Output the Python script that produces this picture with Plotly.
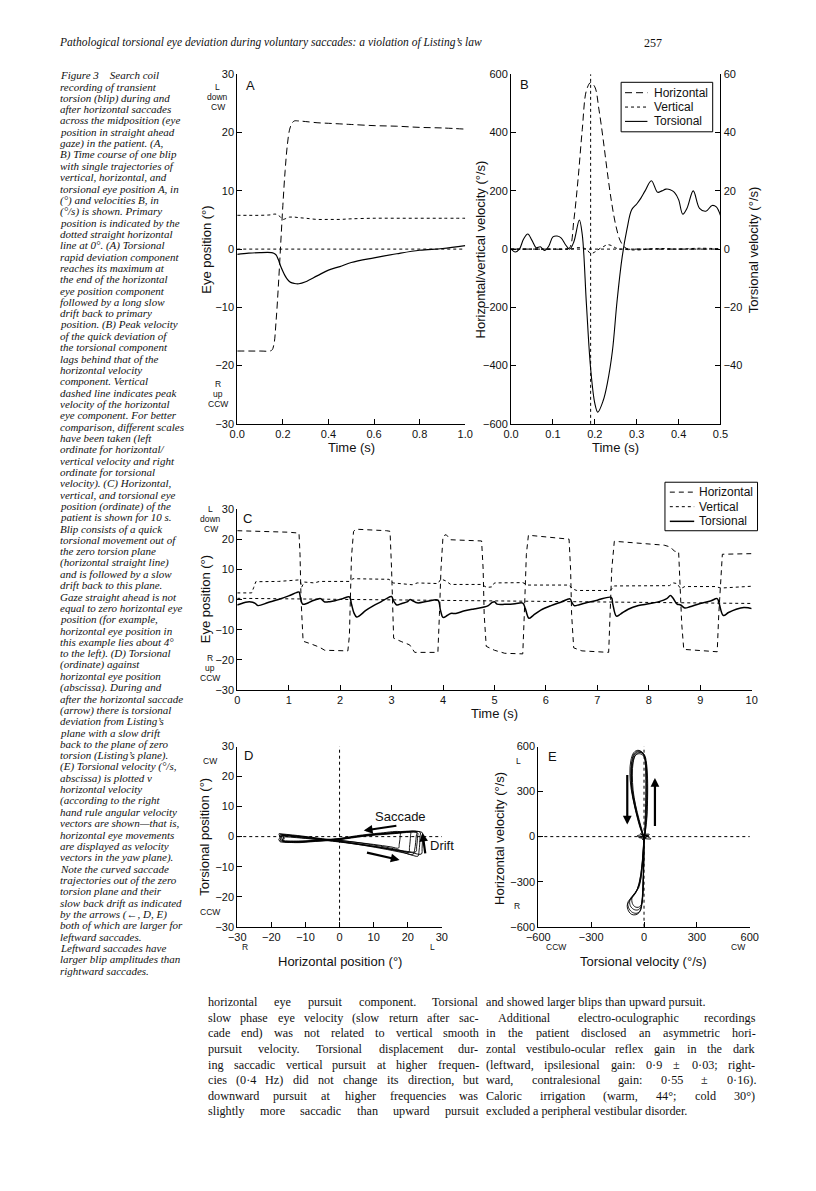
import plotly.graph_objects as go

W, H = 816, 1191
def px(x): return x / W
def py(y): return 1 - y / H

SANS = "Liberation Sans, Arial, sans-serif"
SERIF = "Liberation Serif, Times New Roman, serif"
INK = "#111111"

# ---------------- Panel A : eye position, one blip ----------------
a_t   = [0, 0.05, 0.10, 0.15, 0.16, 0.17, 0.18, 0.19, 0.20, 0.21, 0.22, 0.23, 0.24, 0.25, 0.27, 0.30, 0.35, 0.40, 0.45, 0.50, 0.60, 0.70, 0.80, 0.90, 1.00]
a_hor = [-17.5, -17.5, -17.5, -17.4, -16.5, -12.5, -6.5, 0.5, 7.5, 13.5, 18.0, 20.6, 21.6, 22.0, 22.0, 21.9, 21.7, 21.6, 21.5, 21.4, 21.2, 21.1, 20.9, 20.8, 20.6]
a_ver = [5.8, 5.8, 5.8, 5.9, 6.0, 6.0, 5.8, 5.5, 5.1, 5.2, 5.4, 5.5, 5.5, 5.5, 5.4, 5.3, 5.1, 5.1, 5.1, 5.2, 5.3, 5.3, 5.3, 5.3, 5.3]
a_tor = [-0.9, -0.7, -0.6, -0.6, -0.7, -1.0, -1.8, -2.9, -3.8, -4.6, -5.2, -5.6, -5.8, -5.9, -5.95, -5.6, -4.6, -3.6, -3.0, -2.3, -1.5, -0.8, -0.2, 0.1, 0.6]

# ---------------- Panel B : velocities ----------------
b_t   = [0, 0.05, 0.10, 0.13, 0.14, 0.15, 0.16, 0.17, 0.18, 0.19, 0.20, 0.21, 0.22, 0.23, 0.24, 0.25, 0.26, 0.27, 0.28, 0.30, 0.35, 0.40, 0.45, 0.50]
b_hor = [0, 0, 0, 0, 5, 100, 240, 410, 545, 572, 557, 478, 376, 263, 161, 82, 31, 8, 0, 0, 0, 0, 0, 0]
b_ver = [0, 0, 0, 0, 0, 2, 5, 4, 0, -15, -10, 0, 8, 15, 12, 4, 0, 0, -2, -3, 2, 0, 3, 1]
b_tor_t = [0, 0.01, 0.02, 0.03, 0.04, 0.05, 0.06, 0.07, 0.08, 0.09, 0.10, 0.11, 0.12, 0.13, 0.14, 0.15, 0.163, 0.17, 0.18, 0.19, 0.20, 0.207, 0.22, 0.23, 0.242, 0.253, 0.265, 0.277, 0.288, 0.30, 0.31, 0.32, 0.335, 0.35, 0.36, 0.37, 0.38, 0.39, 0.40, 0.41, 0.42, 0.435, 0.45, 0.465, 0.48, 0.49, 0.50]
b_tor   = [0, -1.0, 0, 3.5, 5.2, 3.0, 0.5, 0.8, -0.5, 1.0, 4.2, 4.5, 3.8, 1.5, 0, 2.5, 10.0, 5.0, -19.0, -41.0, -53.0, -56.0, -52.0, -46.0, -35.0, -18.0, -3.0, 7.0, 13.5, 15.5, 17.5, 20.0, 23.5, 19.5, 20.0, 20.6, 20.4, 19.5, 17.0, 12.0, 14.0, 20.0, 14.0, 13.0, 15.0, 14.5, 11.5]

# ---------------- Panel C : 10 s recording ----------------
c_hor_t = [0, 0.5, 1.0, 1.2, 1.22, 1.24, 1.26, 1.28, 1.45, 1.6, 1.7, 2.15, 2.18, 2.2, 2.22, 2.26, 2.3, 2.9, 2.97, 3.0, 3.02, 3.04, 3.2, 3.35, 3.45, 3.9, 3.93, 3.96, 4.0, 4.06, 4.15, 4.75, 4.78, 4.8, 4.84, 5.0, 5.2, 5.55, 5.58, 5.62, 5.66, 6.0, 6.45, 6.48, 6.5, 6.54, 6.7, 7.22, 7.25, 7.28, 7.33, 7.8, 8.3, 8.42, 8.5, 8.58, 8.61, 8.64, 8.68, 9.0, 9.33, 9.36, 9.39, 9.43, 10.0]
c_hor   = [22.8, 22.6, 22.3, 22.0, 15, 0, -10, -13.8, -14.8, -15.8, -16.8, -17.0, -12, 0, 14, 22.5, 23.3, 22.8, 22.6, 10, -5, -12.8, -14.0, -15.0, -17.5, -17.5, -5, 10, 21.0, 21.5, 19.8, 19.4, 10, -5, -15.5, -16.8, -17.8, -18.0, -5, 15, 21.3, 20.8, 20.0, 10, -5, -16.0, -17.0, -17.5, -5, 10, 19.3, 18.7, 18.0, 17.4, 16.0, 15.8, 5, -8, -16.5, -17.0, -17.3, -5, 5, 15.0, 15.2]
c_ver_t = [0, 0.28, 0.32, 0.36, 0.8, 1.2, 1.23, 1.25, 1.3, 1.5, 1.6, 2.18, 2.25, 2.95, 3.03, 3.4, 3.5, 3.9, 3.96, 4.05, 4.15, 4.75, 4.85, 4.95, 5.0, 5.55, 5.65, 6.45, 6.52, 6.6, 7.25, 7.33, 8.4, 8.48, 8.55, 8.62, 8.7, 9.3, 9.4, 9.6, 10.0]
c_ver   = [2.2, 2.2, 4.0, 5.9, 6.0, 6.5, 5.8, 4.0, 5.8, 5.5, 6.0, 6.0, 6.9, 6.7, 5.5, 4.9, 5.5, 5.3, 6.8, 6.2, 5.0, 5.0, 4.0, 4.2, 5.5, 5.6, 4.8, 4.8, 3.5, 3.0, 3.0, 4.5, 4.6, 5.5, 5.3, 3.6, 4.3, 4.3, 3.8, 4.0, 4.4]
c_tor_t = [0, 0.1, 0.2, 0.3, 0.35, 0.4, 0.6, 0.8, 1.0, 1.15, 1.2, 1.23, 1.27, 1.35, 1.45, 1.55, 1.62, 1.7, 1.8, 1.9, 2.05, 2.18, 2.22, 2.27, 2.32, 2.38, 2.5, 2.65, 2.8, 2.9, 3.0, 3.04, 3.1, 3.2, 3.3, 3.36, 3.42, 3.5, 3.7, 3.9, 3.95, 4.0, 4.08, 4.15, 4.25, 4.4, 4.6, 4.8, 4.88, 4.95, 5.0, 5.05, 5.2, 5.4, 5.55, 5.6, 5.67, 5.75, 5.9, 6.1, 6.3, 6.47, 6.5, 6.55, 6.65, 6.8, 7.0, 7.27, 7.3, 7.37, 7.45, 7.6, 7.8, 8.0, 8.2, 8.35, 8.42, 8.47, 8.55, 8.62, 8.7, 8.8, 9.0, 9.2, 9.33, 9.37, 9.45, 9.55, 9.7, 9.85, 9.95, 10.0]
c_tor   = [-1.8, -1.2, -0.8, -0.9, -1.3, -2.0, -1.0, 0.0, 1.2, 2.3, 2.5, 0.5, -1.5, -1.3, -0.5, 0.1, 0.3, -0.8, -0.7, -0.4, 0.3, 0.9, -1.5, -4.5, -5.8, -5.3, -3.6, -2.0, -0.7, 0.3, 1.0, -0.5, -1.8, -1.3, -0.8, 0.0, -0.5, -1.1, -0.6, -0.2, -3.5, -5.9, -5.3, -4.6, -4.6, -3.8, -3.1, -2.5, -2.0, -1.0, -0.7, -1.5, -1.6, -1.4, -1.2, -3.0, -6.2, -5.3, -3.5, -2.0, -0.8, 0.2, -0.8, -2.0, -1.7, -1.0, -0.2, 0.7, -1.5, -5.5, -4.8, -3.2, -2.0, -1.4, -0.7, 0.3, 1.3, 0.5, -1.5, -1.8, -2.8, -2.4, -1.3, -0.5, 0.3, -1.5, -5.3, -4.3, -3.2, -2.6, -2.8, -3.0]
c_plane_t = [0, 10]
c_plane   = [0.4, -1.3]

# ---------------- Panel D : torsional vs horizontal position ----------------
d_h = [
    [-17.5, -12, -5, 0, 6, 12, 18, 21.5, 22.0, 22.3, 22.5, 22.6, 16, 8, 0, -8, -14, -17.5, -17.2, -17.6],
    [-17.0, -11, -4, 0, 7, 14, 20, 23.0, 23.3, 23.5, 23.6, 23.6, 15, 6, 0, -7, -13, -16.8, -16.5, -17.0],
    [-17.8, -11, -5, 0, 6, 12, 17, 20.3, 20.5, 20.7, 20.8, 20.8, 14, 7, 0, -7, -13, -17.8, -17.5, -17.8],
    [-16.5, -10, -4, 0, 8, 15, 21, 24.0, 24.2, 24.3, 24.3, 24.2, 16, 7, 0, -8, -13, -16.5, -16.2, -16.6],
    [-17.2, -11, -5, 0, 5, 10, 15, 17.3, 17.5, 17.7, 17.8, 17.8, 12, 5, 0, -7, -12, -17.2, -17.0, -17.3],
    [-16.8, -10, -4, 0, 7, 13, 19, 22.4, 22.6, 22.8, 22.9, 22.9, 15, 7, 0, -7, -12, -16.8, -16.4, -16.9],
]
d_t = [
    [0.8, 0.1, -0.9, -1.5, -2.5, -3.6, -5.0, -6.0, -4.5, -2.0, 0.2, 1.6, 1.3, 0.5, -0.8, -1.4, -1.8, -1.6, -0.5, 0.6],
    [0.3, -0.4, -1.2, -1.7, -2.9, -4.3, -5.7, -6.5, -4.8, -2.5, 0.0, 1.5, 1.1, 0.2, -0.9, -1.6, -2.0, -1.4, -0.3, 0.3],
    [1.0, 0.2, -0.7, -1.2, -2.1, -3.2, -4.3, -5.2, -3.6, -1.5, 0.3, 1.5, 1.2, 0.4, -0.7, -1.3, -1.6, -1.2, -0.2, 0.8],
    [0.0, -0.6, -1.3, -1.8, -3.0, -4.2, -5.3, -5.8, -3.9, -1.8, 0.1, 1.4, 1.1, 0.3, -0.9, -1.5, -1.9, -1.5, -0.4, 0.0],
    [0.5, -0.2, -0.9, -1.3, -1.9, -2.6, -3.4, -3.8, -2.6, -1.0, 0.4, 1.5, 1.2, 0.3, -0.6, -1.2, -1.5, -1.0, -0.2, 0.5],
    [0.6, -0.1, -1.0, -1.6, -2.7, -3.8, -4.8, -5.0, -3.4, -1.4, 0.2, 1.2, 0.9, 0.1, -1.0, -1.5, -1.7, -1.3, -0.3, 0.5],
]

# ---------------- Panel E : horizontal vs torsional velocity ----------------
e_tv = [
    [0, 10, 15, 15, 10, -5, -30, -55, -70, -75, -70, -55, -35, -15, 0],
    [0, 12, 18, 17, 12, 0, -25, -50, -65, -72, -68, -52, -30, -12, 0],
    [0, 6, 10, 10, 5, -8, -35, -58, -75, -80, -74, -58, -38, -18, 0],
    [0, 14, 20, 20, 14, 2, -22, -46, -62, -66, -62, -48, -28, -10, 0],
    [0, 8, 12, 12, 8, -6, -32, -52, -68, -72, -66, -50, -32, -14, 0],
    [0, -5, -12, -25, -45, -75, -92, -85, -65, -40, -20, -10, -5, -2, 0],
    [0, -4, -10, -20, -38, -62, -80, -78, -58, -35, -18, -8, -4, -1, 0],
    [0, -6, -14, -28, -50, -80, -95, -88, -70, -46, -24, -12, -6, -2, 0],
    [0, -3, -8, -18, -30, -50, -68, -66, -50, -30, -14, -6, -3, -1, 0],
    [0, 20, -30, 40, -20, 10, -40, 30, -10, 25, 0],
]
e_hv = [
    [0, 100, 250, 400, 500, 555, 570, 555, 500, 420, 320, 220, 120, 40, 0],
    [0, 90, 230, 380, 480, 535, 552, 540, 485, 400, 300, 200, 110, 35, 0],
    [0, 110, 260, 410, 510, 560, 575, 560, 505, 425, 325, 225, 125, 45, 0],
    [0, 95, 240, 390, 490, 545, 560, 548, 492, 410, 310, 210, 115, 38, 0],
    [0, 105, 255, 405, 505, 552, 565, 550, 496, 415, 315, 215, 118, 42, 0],
    [0, -100, -200, -300, -370, -410, -440, -480, -505, -510, -490, -420, -300, -150, 0],
    [0, -90, -190, -290, -350, -390, -420, -460, -485, -488, -470, -400, -290, -140, 0],
    [0, -110, -210, -310, -380, -425, -455, -495, -518, -520, -500, -430, -310, -160, 0],
    [0, -80, -180, -280, -340, -375, -405, -445, -468, -470, -450, -390, -280, -130, 0],
    [0, 10, -5, -15, 20, -10, 5, 15, -20, 8, 0],
]

# ---------------- Text ----------------
header_text = "Pathological torsional eye deviation during voluntary saccades: a violation of Listing’s law"
page_number = "257"
legend_names = ["Horizontal", "Vertical", "Torsional"]
caption_lines = [
    "Figure 3    Search coil", "recording of transient", "torsion (blip) during and",
    "after horizontal saccades", "across the midposition (eye", "position in straight ahead",
    "gaze) in the patient. (A,", "B) Time course of one blip", "with single trajectories of",
    "vertical, horizontal, and", "torsional eye position A, in", "(°) and velocities B, in",
    "(°/s) is shown. Primary", "position is indicated by the", "dotted straight horizontal",
    "line at 0°. (A) Torsional", "rapid deviation component", "reaches its maximum at",
    "the end of the horizontal", "eye position component", "followed by a long slow",
    "drift back to primary", "position. (B) Peak velocity", "of the quick deviation of",
    "the torsional component", "lags behind that of the", "horizontal velocity",
    "component. Vertical", "dashed line indicates peak", "velocity of the horizontal",
    "eye component. For better", "comparison, different scales", "have been taken (left",
    "ordinate for horizontal/", "vertical velocity and right", "ordinate for torsional",
    "velocity). (C) Horizontal,", "vertical, and torsional eye", "position (ordinate) of the",
    "patient is shown for 10 s.", "Blip consists of a quick", "torsional movement out of",
    "the zero torsion plane", "(horizontal straight line)", "and is followed by a slow",
    "drift back to this plane.", "Gaze straight ahead is not", "equal to zero horizontal eye",
    "position (for example,", "horizontal eye position in", "this example lies about 4°",
    "to the left). (D) Torsional", "(ordinate) against", "horizontal eye position",
    "(abscissa). During and", "after the horizontal saccade", "(arrow) there is torsional",
    "deviation from Listing’s", "plane with a slow drift", "back to the plane of zero",
    "torsion (Listing’s plane).", "(E) Torsional velocity (°/s,", "abscissa) is plotted v",
    "horizontal velocity", "(according to the right", "hand rule angular velocity",
    "vectors are shown—that is,", "horizontal eye movements", "are displayed as velocity",
    "vectors in the yaw plane).", "Note the curved saccade", "trajectories out of the zero",
    "torsion plane and their", "slow back drift as indicated", "by the arrows (←, D, E)",
    "both of which are larger for", "leftward saccades.", "Leftward saccades have",
    "larger blip amplitudes than", "rightward saccades.",
]
body_left = [
    "horizontal eye pursuit component. Torsional",
    "slow phase eye velocity (slow return after sac-",
    "cade end) was not related to vertical smooth",
    "pursuit velocity. Torsional displacement dur-",
    "ing saccadic vertical pursuit at higher frequen-",
    "cies (0·4 Hz) did not change its direction, but",
    "downward pursuit at higher frequencies was",
    "slightly more saccadic than upward pursuit",
]
body_left_justify = [True] * 8
body_right = [
    "and showed larger blips than upward pursuit.",
    "Additional electro-oculographic recordings",
    "in the patient disclosed an asymmetric hori-",
    "zontal vestibulo-ocular reflex gain in the dark",
    "(leftward, ipsilesional gain: 0·9 ± 0·03; right-",
    "ward, contralesional gain: 0·55 ± 0·16).",
    "Caloric irrigation (warm, 44°; cold 30°)",
    "excluded a peripheral vestibular disorder.",
]
body_right_justify = [False, True, True, True, True, True, True, False]
body_right_indent = [0, 13, 0, 0, 0, 0, 0, 0]

fig = go.Figure()

def line(dash, width=1.0):
    return dict(color="black", width=width, dash=dash)

H_DASH = "7px,4px"
V_DASH = "3px,3px"

# Panel A
fig.add_trace(go.Scatter(x=a_t, y=a_hor, mode="lines", line=line(H_DASH), line_shape="spline", showlegend=False, xaxis="x", yaxis="y"))
fig.add_trace(go.Scatter(x=a_t, y=a_ver, mode="lines", line=line(V_DASH), line_shape="spline", showlegend=False, xaxis="x", yaxis="y"))
fig.add_trace(go.Scatter(x=a_t, y=a_tor, mode="lines", line=line("solid", 1.2), line_shape="spline", showlegend=False, xaxis="x", yaxis="y"))

# Panel B
B_STYLES = [line(H_DASH), line("dot"), line("solid", 1.1)]
fig.add_trace(go.Scatter(x=b_t, y=b_hor, mode="lines", line=B_STYLES[0], line_shape="spline", name=legend_names[0], showlegend=False, xaxis="x2", yaxis="y2"))
fig.add_trace(go.Scatter(x=b_t, y=b_ver, mode="lines", line=B_STYLES[1], line_shape="spline", name=legend_names[1], showlegend=False, xaxis="x2", yaxis="y2"))
fig.add_trace(go.Scatter(x=b_tor_t, y=b_tor, mode="lines", line=B_STYLES[2], line_shape="spline", name=legend_names[2], showlegend=False, xaxis="x2", yaxis="y3"))
pk = b_t[b_hor.index(max(b_hor))]
fig.add_shape(type="line", xref="x2", yref="y2 domain", x0=pk, x1=pk, y0=0, y1=1, line=line("dot"))

# Panel C
C_STYLES = [line("5px,4px"), line("3px,3px"), line("solid", 1.5)]
fig.add_trace(go.Scatter(x=c_hor_t, y=c_hor, mode="lines", line=C_STYLES[0], name=legend_names[0], showlegend=False, xaxis="x3", yaxis="y4"))
fig.add_trace(go.Scatter(x=c_ver_t, y=c_ver, mode="lines", line=C_STYLES[1], name=legend_names[1], showlegend=False, xaxis="x3", yaxis="y4"))
fig.add_trace(go.Scatter(x=c_tor_t, y=c_tor, mode="lines", line=C_STYLES[2], line_shape="spline", name=legend_names[2], showlegend=False, xaxis="x3", yaxis="y4"))
fig.add_trace(go.Scatter(x=c_plane_t, y=c_plane, mode="lines", line=line("3px,3px"), showlegend=False, xaxis="x3", yaxis="y4"))

# Panel D
for hh, tt in zip(d_h, d_t):
    fig.add_trace(go.Scatter(x=hh, y=tt, mode="lines", line=line("solid", 0.9), line_shape="spline", showlegend=False, xaxis="x4", yaxis="y5"))

# Panel E
for tv, hv in zip(e_tv, e_hv):
    fig.add_trace(go.Scatter(x=tv, y=hv, mode="lines", line=line("solid", 0.9), line_shape="spline", showlegend=False, xaxis="x5", yaxis="y6"))

# zero reference lines
for xr, yr in [("x", "y"), ("x2", "y2")]:
    fig.add_shape(type="line", xref=xr + " domain", yref=yr, x0=0, x1=1, y0=0, y1=0, line=line("dot"))
fig.add_shape(type="line", xref="x4 domain", yref="y5", x0=0, x1=1, y0=0, y1=0, line=line("dot"))
fig.add_shape(type="line", xref="x4", yref="y5 domain", x0=0, x1=0, y0=0, y1=1, line=line("dot"))
fig.add_shape(type="line", xref="x5 domain", yref="y6", x0=0, x1=1, y0=0, y1=0, line=line("dot"))
fig.add_shape(type="line", xref="x5", yref="y6 domain", x0=0, x1=0, y0=0, y1=1, line=line("dot"))

tickfont = dict(family=SANS, size=11, color=INK)
def ax(**kw):
    base = dict(showline=True, linecolor="black", linewidth=1, ticks="inside", ticklen=5,
                tickcolor="black", tickwidth=1, showgrid=False, zeroline=False,
                tickfont=tickfont, fixedrange=True)
    base.update(kw)
    return base

A_X, A_Y = [223, 457], [61, 414]
B_X = [504, 719]
C_X, C_Y = [223, 751], [500, 683]
D_X, D_Y = [223, 433], [740, 922]
E_X, E_Y = [532, 749], [740, 922]

fig.update_layout(
    width=W, height=H, margin=dict(l=0, r=0, t=0, b=0),
    paper_bgcolor="white", plot_bgcolor="rgba(0,0,0,0)", showlegend=False,
    xaxis=ax(domain=[px(A_X[0]), px(A_X[1])], range=[0, 1], dtick=0.2, tickformat=".1f", anchor="y"),
    yaxis=ax(domain=[py(A_Y[1]), py(A_Y[0])], range=[-30, 30], dtick=10, anchor="x"),
    xaxis2=ax(domain=[px(B_X[0]), px(B_X[1])], range=[0, 0.5], dtick=0.1, tickformat=".1f", anchor="y2"),
    yaxis2=ax(domain=[py(A_Y[1]), py(A_Y[0])], range=[-600, 600], dtick=200, anchor="x2"),
    yaxis3=ax(domain=[py(A_Y[1]), py(A_Y[0])], range=[-60, 60], tickvals=[-40, -20, 0, 20, 40, 60],
              overlaying="y2", side="right", anchor="x2"),
    xaxis3=ax(domain=[px(C_X[0]), px(C_X[1])], range=[0, 10], dtick=1, anchor="y4"),
    yaxis4=ax(domain=[py(C_Y[1]), py(C_Y[0])], range=[-30, 30], dtick=10, anchor="x3"),
    xaxis4=ax(domain=[px(D_X[0]), px(D_X[1])], range=[-30, 30], dtick=10, anchor="y5"),
    yaxis5=ax(domain=[py(D_Y[1]), py(D_Y[0])], range=[-30, 30], dtick=10, anchor="x4"),
    xaxis5=ax(domain=[px(E_X[0]), px(E_X[1])], range=[-600, 600], dtick=300, anchor="y6"),
    yaxis6=ax(domain=[py(E_Y[1]), py(E_Y[0])], range=[-600, 600], dtick=300, anchor="x5"),
)

ann = []
def note(text, x, y, size=12, font=SANS, angle=0, xanchor="center", yanchor="middle", italic=False, align="center"):
    ann.append(dict(text=text, x=px(x), y=py(y), xref="paper", yref="paper", showarrow=False,
                    textangle=angle, xanchor=xanchor, yanchor=yanchor, align=align, borderpad=0,
                    font=dict(family=font, size=size, color=INK, style="italic" if italic else "normal")))

# compact boxed legends (key lines + labels)
def legend_box(x0, y0, x1, y1, styles, rows, key_x0, key_x1, text_x):
    fig.add_shape(type="rect", xref="paper", yref="paper", x0=px(x0), x1=px(x1), y0=py(y1), y1=py(y0),
                  line=dict(color="black", width=1), fillcolor="white", layer="above")
    for st, ry, name in zip(styles, rows, legend_names):
        fig.add_shape(type="line", xref="paper", yref="paper", x0=px(key_x0), x1=px(key_x1),
                      y0=py(ry), y1=py(ry), line=st, layer="above")
        note(name, text_x, ry, 12, xanchor="left")

legend_box(617, 69, 711, 119, B_STYLES, [79.5, 94, 108.5], 621, 644, 650)
legend_box(662, 473, 757, 522, C_STYLES, [483, 497.7, 512.5], 667, 692, 696)

# axis titles
note("Eye position (°)", 192, 238, 13, angle=-90)
note("Time (s)", 340, 438, 13)
note("Horizontal/vertical velocity (°/s)", 473, 238, 13, angle=-90)
note("Torsional velocity (°/s)", 753, 238, 13, angle=-90)
note("Time (s)", 611, 438, 13)
note("Eye position (°)", 190, 591, 13, angle=-90)
note("Time (s)", 487, 707, 13)
note("Torsional position (°)", 190, 831, 13, angle=-90)
note("Horizontal position (°)", 328, 957, 13)
note("Horizontal velocity (°/s)", 492, 833, 13, angle=-90)
note("Torsional velocity (°/s)", 640, 957, 13)

# panel letters
for t, x, y in [("A", 237, 72), ("B", 518, 71), ("C", 234, 510), ("D", 235, 749), ("E", 547, 750)]:
    note(t, x, y, 13)

# direction labels (one word per annotation)
def stack(words, x, y0, dy=10, size=8.5):
    for i, w in enumerate(words):
        note(w, x, y0 + dy * i, size)

stack(["L", "down", "CW"], 203, 74)
stack(["R", "up", "CCW"], 203, 374)
stack(["L", "down", "CW"], 196, 500)
stack(["R", "up", "CCW"], 195, 651)
note("CW", 195, 755, 8.5)
note("CCW", 195, 907, 8.5)
note("R", 231, 942, 8.5)
note("L", 423, 942, 8.5)
note("L", 512, 755, 8.5)
note("R", 510, 901, 8.5)
note("CCW", 550, 943, 8.5)
note("CW", 737, 943, 8.5)

# Panel D / E annotations
ann.append(dict(text="Saccade", x=17.9, y=6.7, xref="x4", yref="y5", showarrow=False,
                font=dict(family=SANS, size=13, color=INK)))
ann.append(dict(text="Drift", x=30.0, y=-3.0, xref="x4", yref="y5", showarrow=False,
                font=dict(family=SANS, size=13, color=INK)))
for (hx, hy, tx, ty) in [(7.1, 2.0, 17.1, 3.7), (17.6, -7.8, 7.6, -5.2), (24.3, 1.3, 25.2, -6.1)]:
    ann.append(dict(x=hx, y=hy, ax=tx, ay=ty, xref="x4", yref="y5", axref="x4", ayref="y5",
                    showarrow=True, arrowhead=2, arrowsize=0.8, arrowwidth=2.2, arrowcolor="black", text=""))
for (hx, hy, tx, ty) in [(-95, 80, -95, 420), (62, 390, 62, 60)]:
    ann.append(dict(x=hx, y=hy, ax=tx, ay=ty, xref="x5", yref="y6", axref="x5", ayref="y6",
                    showarrow=True, arrowhead=2, arrowsize=0.8, arrowwidth=2.2, arrowcolor="black", text=""))

# header
note(header_text, 39, 29, 11.5, font=SERIF, italic=True, xanchor="left")
note(page_number, 660, 29, 12, font=SERIF, xanchor="right")

# caption
for i, s in enumerate(caption_lines):
    note(s, 40, 62 + 11.45 * i, 11, font=SERIF, italic=True, xanchor="left")

# body text with justification using Times metrics
TW = {' ': 250, '!': 333, '(': 333, ')': 333, ',': 250, '-': 333, '.': 250, '/': 278, ':': 278, ';': 278,
      '0': 500, '1': 500, '2': 500, '3': 500, '4': 500, '5': 500, '6': 500, '7': 500, '8': 500, '9': 500,
      'A': 722, 'B': 667, 'C': 667, 'D': 722, 'E': 611, 'F': 556, 'G': 722, 'H': 722, 'I': 333, 'J': 389,
      'K': 722, 'L': 611, 'M': 889, 'N': 722, 'O': 722, 'P': 556, 'Q': 722, 'R': 667, 'S': 556, 'T': 611,
      'U': 722, 'V': 722, 'W': 944, 'X': 722, 'Y': 722, 'Z': 611,
      'a': 444, 'b': 500, 'c': 444, 'd': 500, 'e': 444, 'f': 333, 'g': 500, 'h': 500, 'i': 278, 'j': 278,
      'k': 500, 'l': 278, 'm': 778, 'n': 500, 'o': 500, 'p': 500, 'q': 500, 'r': 333, 's': 389, 't': 278,
      'u': 500, 'v': 500, 'w': 722, 'x': 500, 'y': 500, 'z': 444, '°': 400, '·': 250, '±': 564}
BODY_SIZE = 12.2
def tw(s):
    return sum(TW.get(c, 500) for c in s) * BODY_SIZE / 1000.0

def body_column(lines, justify, x0, x1, y0, dy, indents=None):
    for i, s in enumerate(lines):
        ind = indents[i] if indents else 0
        y = y0 + dy * i
        if not justify[i]:
            note(s, x0 + ind, y, BODY_SIZE, font=SERIF, xanchor="left")
            continue
        words = s.split(" ")
        gap = (x1 - x0 - ind - sum(tw(w) for w in words)) / (len(words) - 1)
        x = x0 + ind
        for w in words:
            note(w, x, y, BODY_SIZE, font=SERIF, xanchor="left")
            x += tw(w) + gap

body_column(body_left, body_left_justify, 192, 469, 998, 15.8)
body_column(body_right, body_right_justify, 477, 753, 998, 15.8, body_right_indent)

fig.update_layout(annotations=ann)
fig.write_html("out.html")
